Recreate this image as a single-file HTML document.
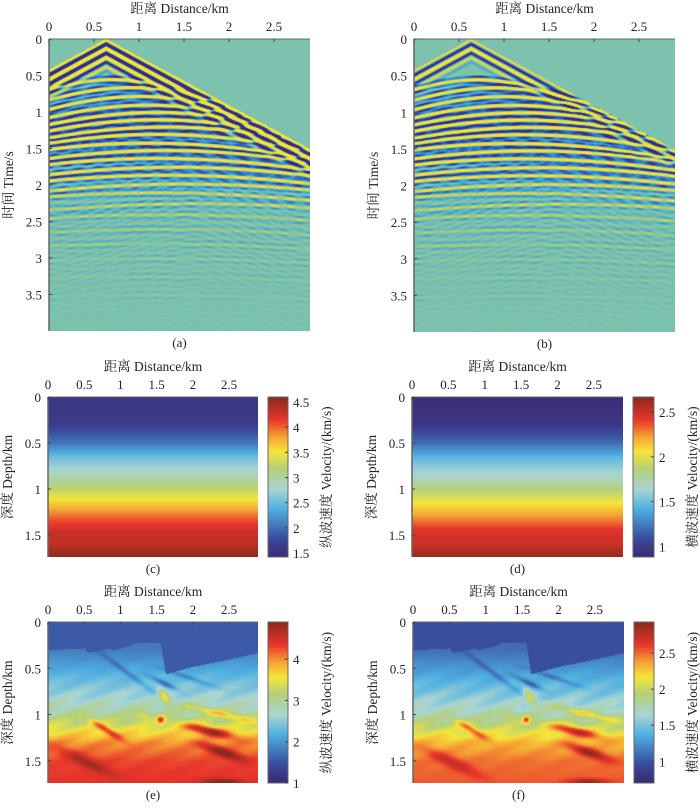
<!DOCTYPE html>
<html><head><meta charset="utf-8">
<style>
html,body{margin:0;padding:0;background:#fff;}
#root{position:relative;width:700px;height:809px;overflow:hidden;background:#fff;}
canvas{position:absolute;}
svg{position:absolute;left:0;top:0;}
text{font-family:"Liberation Serif","Noto Serif CJK SC",serif;fill:#222;}
</style></head>
<body>
<div id="root">
<canvas id="ca" width="261" height="292" style="left:49px;top:39px"></canvas>
<canvas id="cb" width="261" height="293" style="left:414px;top:39px"></canvas>
<canvas id="cc" width="210" height="160" style="left:48px;top:397px"></canvas>
<canvas id="ccb" width="20" height="160" style="left:268px;top:397px"></canvas>
<canvas id="cd" width="211" height="160" style="left:412px;top:397px"></canvas>
<canvas id="cdb" width="21" height="160" style="left:633px;top:397px"></canvas>
<canvas id="ce" width="210" height="161" style="left:48px;top:622px"></canvas>
<canvas id="ceb" width="20" height="161" style="left:268px;top:622px"></canvas>
<canvas id="cf" width="211" height="161" style="left:413px;top:622px"></canvas>
<canvas id="cfb" width="20" height="161" style="left:634px;top:622px"></canvas>
<svg id="ov" width="700" height="809"></svg>
</div>
<script>
// ---- data ----
const distTicks=[0,0.5,1,1.5,2,2.5];
const timeTicks=[0,0.5,1,1.5,2,2.5,3,3.5];
const depthTicks=[0,0.5,1,1.5];
const cbTicksC=[1.5,2,2.5,3,3.5,4,4.5];
const cbTicksD=[1,1.5,2,2.5];
const cbTicksE=[1,2,3,4];
const cbTicksF=[1,1.5,2,2.5];
const rangeC=[1.42,4.6], rangeD=[0.88,2.67], rangeE=[1,4.9], rangeF=[0.7,2.93];
const shotX=0.63, directVel=1.5;
const reflT0=[0.55,0.66,0.78,0.9,1.0,1.1,1.2,1.3,1.42,1.52,1.63,1.75,1.86,1.98,2.1,2.25,2.4,2.6,2.8,3.0,3.25,3.5];
const reflApex=[0.7,0.9,1.0,1.1,1.2,1.2,1.3,1.2,1.1,1.3,1.2,1.4,1.3,1.5,1.2,1.6,1.3,1.2,1.1,1.2,1.0,1.1];
const reflVel=[1.7,1.8,1.8,1.9,2.0,2.0,2.1,2.1,2.2,2.2,2.3,2.3,2.4,2.4,2.5,2.5,2.6,2.6,2.7,2.8,2.9,3.0];
const reflAmp=[1,1.1,1.1,1.1,1.1,1.1,1.1,1.1,1.1,1,0.95,0.85,0.7,0.55,0.42,0.32,0.24,0.16,0.12,0.09,0.07,0.05];
const depthKnots=[0,0.28,0.5,0.65,0.9,1.1,1.3,1.45,1.6,1.74];
const vpKnots=[1.55,1.6,2.05,2.5,3.0,3.5,4.0,4.3,4.35,4.6];
const vsKnots=[0.9,0.95,1.2,1.45,1.72,2.0,2.25,2.45,2.5,2.65];
const boundX=[0,0.5,0.55,0.85,0.9,1.15,1.2,1.55,1.62,2.0,2.5,2.9];
const boundZ=[0.3,0.28,0.33,0.28,0.3,0.25,0.22,0.22,0.56,0.48,0.4,0.33];
const invDepth=[0,0.3,0.55,0.8,1.0,1.15,1.3,1.5,1.74];
const invVp=[1.7,1.8,2.2,2.6,3.0,3.5,4.0,4.3,4.4];
const lensX=[2.2,2.35,1.6,0.78,2.4,2.4,1.55,1.1,1.6,1.95,1.3,0.5];
const lensZ=[1.17,0.98,0.8,1.15,1.4,1.72,1.05,0.55,0.66,0.6,1.0,1.5];
const lensRX=[0.35,0.5,0.12,0.25,0.3,0.25,0.05,0.45,0.2,0.4,0.12,0.4];
const lensRZ=[0.05,0.035,0.05,0.04,0.05,0.03,0.04,0.03,0.03,0.025,0.05,0.06];
const lensAng=[-10,-10,-50,-25,-15,0,0,-30,-20,-15,0,-20];
const lensDV=[1.3,0.8,0.9,0.9,0.9,0.7,1.3,-0.4,-0.7,-0.4,0.5,0.5];

// ---- colormaps ----
const velStops=[[0,'#3b2a75'],[0.12,'#3a4f9f'],[0.3,'#4fb0e0'],[0.42,'#a9d5d4'],[0.55,'#b5d07a'],[0.66,'#f4e53a'],[0.75,'#f6a435'],[0.86,'#e8352b'],[1,'#8b2a1e']];
const seisStops=[[0,'#352a87'],[0.25,'#2f6fd0'],[0.4,'#3ea8d8'],[0.5,'#7cc2ae'],[0.65,'#b9cf5e'],[0.8,'#f0d83a'],[1,'#f7e42a']];
function hex(h){return [parseInt(h.substr(1,2),16),parseInt(h.substr(3,2),16),parseInt(h.substr(5,2),16)];}
function cmap(stops,t){t=Math.max(0,Math.min(1,t));for(let i=1;i<stops.length;i++){if(t<=stops[i][0]){const a=stops[i-1],b=stops[i];const f=(t-a[0])/(b[0]-a[0]);const A=hex(a[1]),B=hex(b[1]);return [A[0]+(B[0]-A[0])*f,A[1]+(B[1]-A[1])*f,A[2]+(B[2]-A[2])*f];}}return hex(stops[stops.length-1][1]);}
function interp(xs,ys,x){if(x<=xs[0])return ys[0];for(let i=1;i<xs.length;i++){if(x<=xs[i]){const f=(x-xs[i-1])/(xs[i]-xs[i-1]);return ys[i-1]+(ys[i]-ys[i-1])*f;}}return ys[ys.length-1];}
function fillCanvas(id,fn){const c=document.getElementById(id),ctx=c.getContext('2d');const W=c.width,H=c.height;const img=ctx.createImageData(W,H);for(let j=0;j<H;j++)for(let i=0;i<W;i++){const col=fn(i,j,W,H);const k=(j*W+i)*4;img.data[k]=col[0];img.data[k+1]=col[1];img.data[k+2]=col[2];img.data[k+3]=255;}ctx.putImageData(img,0,0);}

// ---- seismic ----
function seis(x,t,directStrength){
  const h=Math.abs(x-shotX);const td=h/directVel;
  if(t<td-0.01) return 0;
  let a=0;const dt=t-td;
  const env=Math.exp(-Math.pow((dt-0.12)/(0.08+0.12*directStrength),2));
  a+=directStrength*2.6*Math.cos(2*Math.PI*8*dt)*env;
  for(let i=0;i<reflT0.length;i++){
    const tr=Math.sqrt(reflT0[i]*reflT0[i]+Math.pow((x-reflApex[i])/reflVel[i],2));
    const d=t-tr;if(Math.abs(d)>0.12)continue;
    if(tr<td)continue;
    const lat=0.35+0.65*Math.abs(Math.cos(x*(4+i*0.9)+i*1.3)*Math.cos(x*(9+i*0.5)+i));
    a+=2.0*reflAmp[i]*lat*Math.cos(2*Math.PI*11*d)*Math.exp(-Math.pow(d/0.05,2));
  }
  const tex=0.12*Math.cos(2*Math.PI*13*(t-0.15*Math.cos(x*2.1)))*Math.cos(x*17+t*5)*Math.exp(-Math.pow((t-2.4)/1.1,2));
  a+=tex;
  return a;
}
function seisPanel(id,ds){fillCanvas(id,(i,j,W,H)=>{const x=i/W*2.9,t=j/H*4;const a=seis(x,t,ds);return cmap(seisStops,0.5+Math.max(-0.5,Math.min(0.5,a*0.55)));});}
seisPanel('ca',1.0);
seisPanel('cb',0.45);

// ---- initial models ----
fillCanvas('cc',(i,j,W,H)=>{const z=j/H*1.74;const v=interp(depthKnots,vpKnots,z);return cmap(velStops,(v-rangeC[0])/(rangeC[1]-rangeC[0]));});
fillCanvas('cd',(i,j,W,H)=>{const z=j/H*1.74;const v=interp(depthKnots,vsKnots,z);return cmap(velStops,(v-rangeD[0])/(rangeD[1]-rangeD[0]));});
function cbar(id){fillCanvas(id,(i,j,W,H)=>cmap(velStops,1-j/(H-1)));}
['ccb','cdb','ceb','cfb'].forEach(cbar);

// ---- inverted models ----
function invField(x,z){
  const zb=interp(boundX,boundZ,x);
  if(z<zb) return 1.55;
  let v=interp(invDepth,invVp,z);
  v+=0.15*Math.cos((z+0.35*x)*28)*Math.exp(-Math.pow((z-1.0)/0.4,2));
  for(let k=0;k<lensX.length;k++){
    const ang=lensAng[k]*Math.PI/180;const dx=x-lensX[k],dz=z-lensZ[k];
    const u=dx*Math.cos(ang)-dz*Math.sin(ang),w=dx*Math.sin(ang)+dz*Math.cos(ang);
    v+=lensDV[k]*Math.exp(-(u*u/(lensRX[k]*lensRX[k])+w*w/(lensRZ[k]*lensRZ[k])));
  }
  return v;
}
fillCanvas('ce',(i,j,W,H)=>{const v=invField(i/W*2.9,j/H*1.74);return cmap(velStops,(v-rangeE[0])/(rangeE[1]-rangeE[0]));});
fillCanvas('cf',(i,j,W,H)=>{const vp=invField(i/W*2.9,j/H*1.74);const t=(vp-rangeE[0])/(rangeE[1]-rangeE[0]);return cmap(velStops,t*0.97-0.02);});

// ---- axes ----
const svg=document.getElementById('ov');const NS='http://www.w3.org/2000/svg';
function el(tag,attrs,txt){const e=document.createElementNS(NS,tag);for(const k in attrs)e.setAttribute(k,attrs[k]);if(txt!==undefined)e.textContent=txt;svg.appendChild(e);return e;}
function panel(p){
  const {x0,x1,y0,y1,ymax,yTicks,ylabel,cap}=p;
  const sx=v=>x0+v/2.9*(x1-x0), sy=v=>y0+v/ymax*(y1-y0);
  let e=el('line',{x1:x0,y1:y0,x2:x1,y2:y0,stroke:'#666','stroke-width':1});
  
  e=el('line',{x1:x0,y1:y0,x2:x0,y2:y1,stroke:'#666','stroke-width':1.5});
  
  distTicks.forEach(v=>{el('line',{x1:sx(v),y1:y0,x2:sx(v),y2:y0+3,stroke:'#444'});
    e=el('text',{x:sx(v),y:y0-8,'text-anchor':'middle','font-size':13},String(v));
    });
  yTicks.forEach(v=>{el('line',{x1:x0,y1:sy(v),x2:x0+3,y2:sy(v),stroke:'#444'});
    e=el('text',{x:x0-7,y:sy(v)+5,'text-anchor':'end','font-size':13},String(v));
    });
  e=el('text',{x:(x0+x1)/2,y:y0-26,'text-anchor':'middle','font-size':13.5},'距离 Distance/km');
  
  const ly=(y0+y1)/2;
  e=el('text',{x:0,y:0,'text-anchor':'middle','font-size':13.5,transform:`translate(${x0-36},${ly}) rotate(-90)`},ylabel);
  
  e=el('text',{x:(x0+x1)/2,y:y1+16,'text-anchor':'middle','font-size':13},cap);
  
  if(p.cb){const {cx0,cx1,r,ticks,label}=p.cb;
    const cy=v=>y1-(v-r[0])/(r[1]-r[0])*(y1-y0);
    e=el('rect',{x:cx0,y:y0,width:cx1-cx0,height:y1-y0,fill:'none',stroke:'#666'});
    
    ticks.forEach(v=>{el('line',{x1:cx1-3,y1:cy(v),x2:cx1,y2:cy(v),stroke:'#444'});
      e=el('text',{x:cx1+5,y:cy(v)+5,'font-size':13},String(v));
      });
    e=el('text',{x:0,y:0,'text-anchor':'middle','font-size':13.5,transform:`translate(${cx1+43},${ly}) rotate(-90)`},label);
    }
}
panel({x0:49,x1:310,y0:39,y1:331,ymax:4,yTicks:timeTicks,ylabel:'时间 Time/s',cap:'(a)'});
panel({x0:414,x1:675,y0:39,y1:332,ymax:4,yTicks:timeTicks,ylabel:'时间 Time/s',cap:'(b)'});
panel({x0:48,x1:258,y0:397,y1:557,ymax:1.74,yTicks:depthTicks,ylabel:'深度 Depth/km',cap:'(c)',cb:{cx0:268,cx1:288,r:rangeC,ticks:cbTicksC,label:'纵波速度 Velocity/(km/s)'}});
panel({x0:412,x1:623,y0:397,y1:557,ymax:1.74,yTicks:depthTicks,ylabel:'深度 Depth/km',cap:'(d)',cb:{cx0:633,cx1:654,r:rangeD,ticks:cbTicksD,label:'横波速度 Velocity/(km/s)'}});
panel({x0:48,x1:258,y0:622,y1:783,ymax:1.74,yTicks:depthTicks,ylabel:'深度 Depth/km',cap:'(e)',cb:{cx0:268,cx1:288,r:rangeE,ticks:cbTicksE,label:'纵波速度 Velocity/(km/s)'}});
panel({x0:413,x1:624,y0:622,y1:783,ymax:1.74,yTicks:depthTicks,ylabel:'深度 Depth/km',cap:'(f)',cb:{cx0:634,cx1:654,r:rangeF,ticks:cbTicksF,label:'横波速度 Velocity/(km/s)'}});
</script>
</body></html>
